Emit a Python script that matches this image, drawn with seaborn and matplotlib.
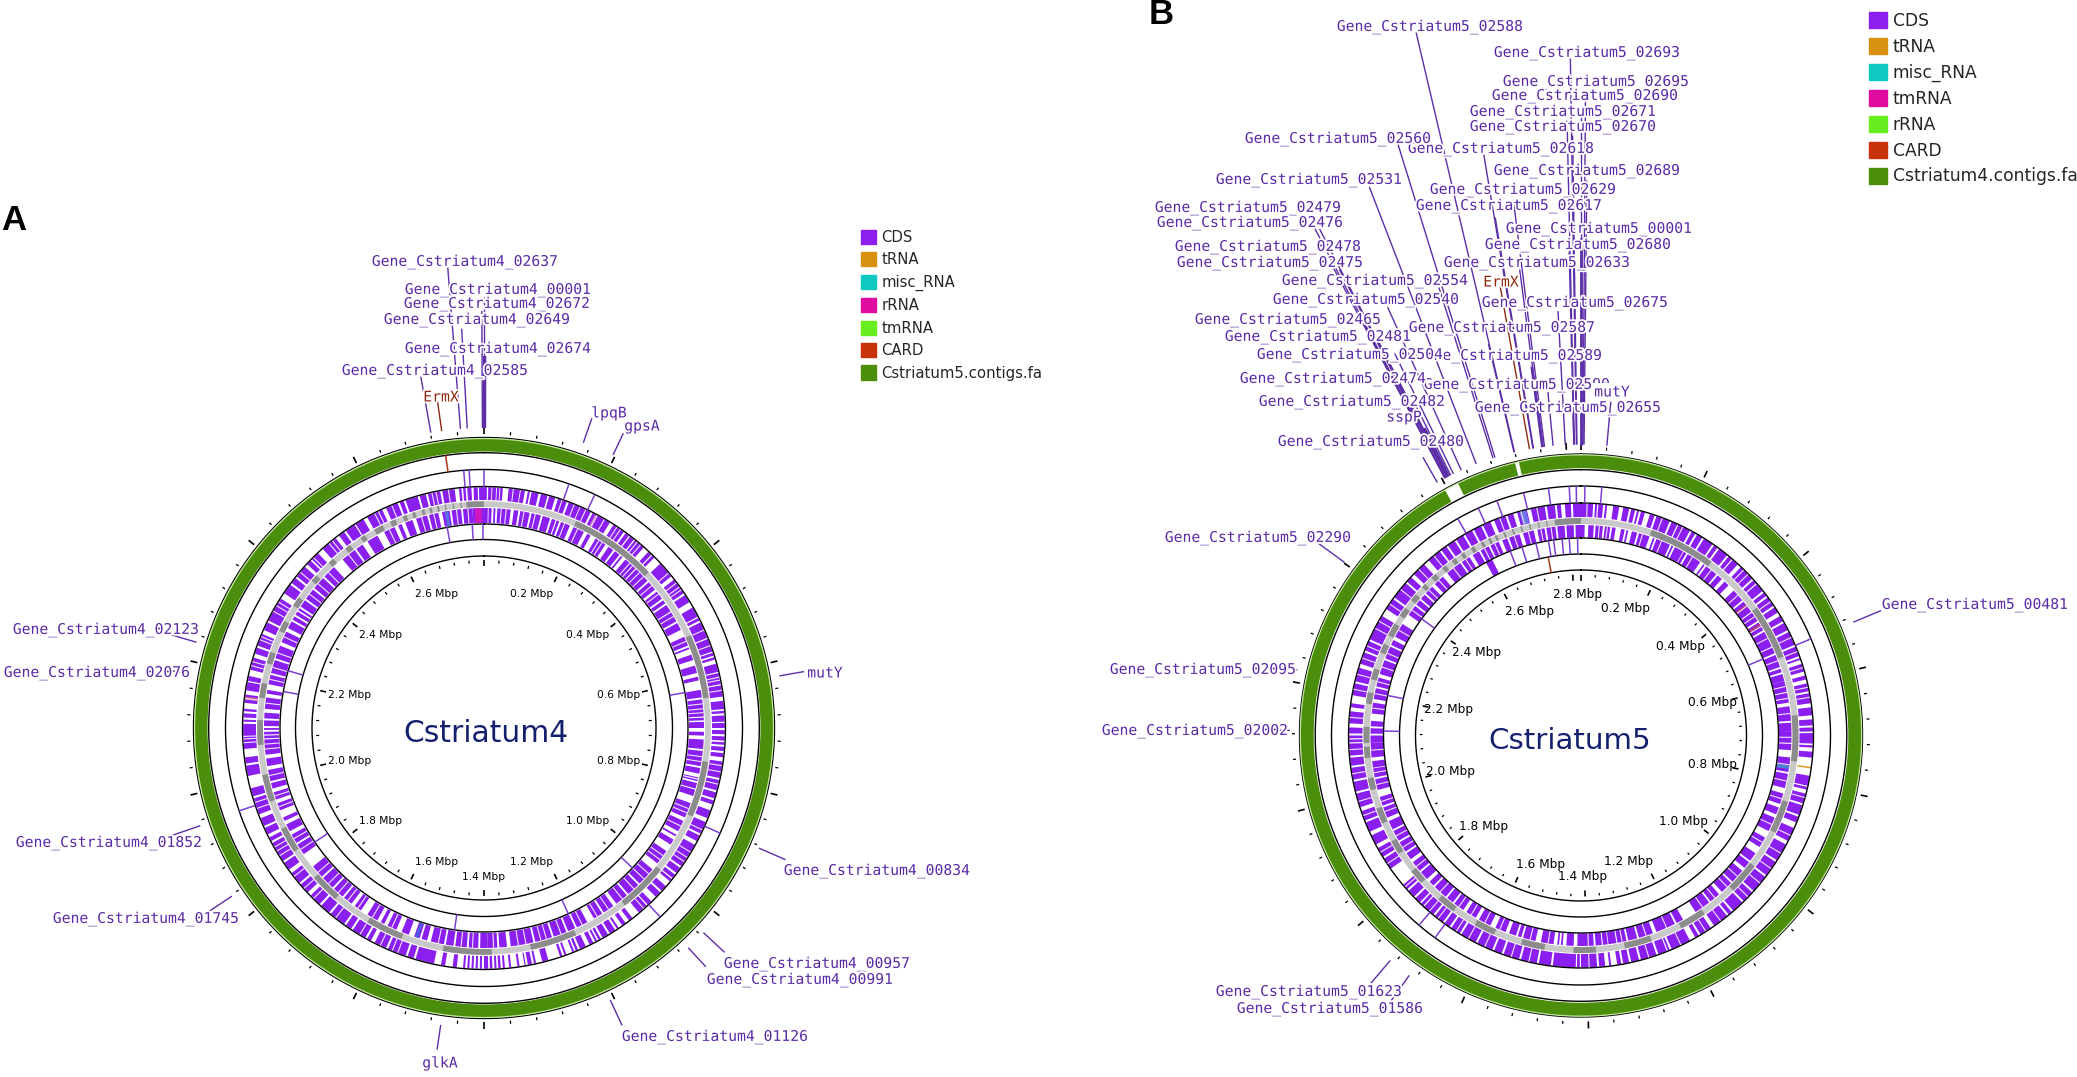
import numpy as np
import pandas as pd
import matplotlib
matplotlib.use("Agg")
import matplotlib.pyplot as plt
import matplotlib.patheffects as pe
from matplotlib.patches import Patch
import seaborn as sns

sns.set_theme(style="white")
W, H = 2077, 1077

# ---------- DATA (angles are degrees clockwise from the origin) ----------
palette_hex = ["#8a1ff0", "#d8900f", "#0fc8c0", "#e00ca0", "#66ee1e", "#c8320a", "#4a8e0c"]
len_a_mbp, len_b_mbp = 2.80, 2.823

a_outer = [0,.7,1,1.8,2,2.9,3.1,3.7,3.9,4.5,5.9,8.6,8.8,9.8,10.5,11,11.4,13.1,13.7,15.3,15.7,17.2,17.9,20.1,20.6,23.4,23.6,26.3,
 26.8,31.5,32.5,35.5,36,37,37.3,38.5,38.8,41.5,43,44,44.3,45,47,51,52,56,56.5,58.5,60,62.5,62.8,63.5,64,68,68.3,71.5,71.8,72.5,72.9,73.5,74.5,76.5,
 76.8,79.5,79.8,82.5,83.5,85.5,85.9,86.5,87,88.5,88.8,90,90.5,91.5,92,93,93.4,94,94.5,95.5,96,97,98,102,102.5,105,105.5,107,107.5,108.5,110,112,113,116,116.5,118,119,125,
 125.5,127,127.5,128.5,128.8,129.5,131,132.5,133,134.5,136,137.2,137.5,140,142,143,144,145,146,146.5,147,148.5,149,150.5,151,151.6,152,152.5,153,154,155,156.5,157,157.6,158,158.5,160,160.5,161,161.6,
 164.5,166,167.5,168,168.5,169.5,170,170.3,171.5,172,173.5,174,175,175.5,176,176.6,177,177.5,178,178.6,179,180,180.5,181,181.5,182,182.5,183,183.5,184,184.5,185,
 186.5,187.5,189.3,190.3,192,196.5,197,198.5,199,203.5,204,207,208,209,209.5,213,213.5,215,215.5,219.5,220,222.5,223,226,227,229.5,230,233,234,236,236.5,241.5,242,243,243.8,245.5,246,248,249,253,253.5,255.5,258.5,261,261.5,263,265,270,
 270,271,271.5,272,272.5,273.5,274,274.6,276,278,279,281,281.3,282.5,284,287,288,289.5,290,293,294,296,296.5,302.5,304,306.5,307,308.5,309,312,312.8,314,314.4,316.5,318,322,323,324.5,325,327.5,327.8,330,331,335,336,339,339.5,340.5,341,344,344.5,346,346.5,349.5,350,353,354,354.6,355,355.6,356,357,357.5,358.5,358.8,360]
a_inner = [0,1,1.2,2,2.5,3,3.5,7,7.8,9,9.5,12,12.5,15,15.5,17.5,18,19,19.3,20,20.5,23,24,27,28,29,30.5,33.5,34.5,36,36.5,38,38.5,39,40,43.5,43.8,48,48.5,51,51.7,54,54.5,55.5,56,58,58.3,61,61.5,63.5,65.5,68,68.5,69,70.5,72,73.5,75.5,76.5,77.5,80,82,82.5,87,87.3,88,88.4,90,
 91,92,93,95.5,96,100,100.5,102,103,103.3,103.6,104,104.5,106,106.3,108,110,114,115,118,119,119.5,120.5,122,124,128,130,135,135.5,139,139.5,143,144,147,147.5,150,152,155,155.5,157.5,158,161.5,162,166.5,167,173,174,176,176.5,179,179,181,
 181.5,184,184.5,187.5,188,190,190.5,194,195,196.5,197,198.5,200,202,203.5,206,207,208,209,212,214,216,217,219.5,220,223,223.5,227,227.5,231,235,238,238.5,241,242,244,245,246,248,250,251,253,254,255.5,256,259,260,262,263,267,
 267.3,268,268.3,269,269.5,270,270.5,272,272.5,274,275,278,279,280,281.5,284,284.5,288,288.5,292,293,296,297,299,299.5,300.5,301,302,302.4,303,303.5,305.5,306,309,309.5,313,313.5,317,320,324,324.5,326.5,328,331,333,336,337,338,339,341,342,345,345.5,348,349,351,351.5,354,354.5,357,357,360]
a_outer_cuts = [7,18.9,22,25,28,30,33.5,34.5,39.5,40.5,50,53,54.2,55,66,70,77.8,78.5,81,99,100.5,103.5,115,121,122.5,123.7,138.5,201,202.4,205.5,211,218,225,228.3,232,238,239.3,240.4,250.5,252,268,266.5,267.4,277,285,286,291.5,292.3,299,300.5,301.5,310.3,315,320,321,333,334,337.5,347.5,348.5,351.5]
a_inner_cuts = [4.5,5.8,10.5,13.5,21.5,25.2,31.5,32.5,41.5,42.5,45,46.5,49.7,52.5,59.5,66.8,83.7,85,86,97.5,98.8,111.5,112.7,116.5,125.5,126.8,131.5,133.3,137,141,145.5,149,153.5,159.5,163.5,165,169,171,177.5,183,186,192,204.8,210.5,215,218.3,221.5,225,229,236.5,239.8,249,252,257.5,264.5,265.8,276.5,282.8,286,290,294.5,307.5,311,315,322,334.5,343.5,346.8,352.8,355.8]
a_dark = [24,46.6,65.8,82.3,98.6,113,128.8,141.5,156,168,178,190.5,201.4,211,221,228.6,236.9,243.5,251,258,265.7,272,277.7,281.5,286.6,289.6,295.4,298.2,302.7,305.2,310.5,312.3,316.8,318.3,322.3,323.8,327,328.3,331,333.4,335.5,337,339,340,341.5,342.3,344,344.7,346,346.6,348,348.5,350,350.3,352,352.3,354,354.3,355.5,360]
a_hits_mid = [355.5,356.7,0,19.2,25.4,114,137,251.3]
a_hits_low = [80,133.3,155.6,188.3,236,280.3,286.3,349.6,356.7,359.7]
a_card_out = [352.0]
a_tint_outer = [(276.8,277.5,"#d06a90"),(27.5,28.2,"#c87ad0")]
a_tint_inner = [(197.4,198.2,"#4a60e0"),(349.7,350.6,"#5a70e8"),(357.6,359.4,"#d018c0")]

b_outer = [0,3,3.5,4,4.3,5.5,6,6.5,8,9.5,10.5,12,12.5,13.5,14,14.5,15,16,17.3,18.5,19,22.5,23,24.5,24.8,28,28.5,29.5,30,31.5,32,34.5,35,36,36.5,39,39.5,40.5,40.8,42.5,43.5,47.5,48,49,49.3,51.5,52,53,53.5,56,56.5,58,59,60.5,61,63,63.5,67,67.5,70,70.5,71,72,74,75,76,77,79,79.5,82,83,85,86,87.5,88,89,89.4,92,92.4,93,94,95.5,
 100,102.5,102.8,103.5,104.5,107,107.5,110,110.5,112,113.5,117,118,122.5,123,127,127.5,132,132.5,135.5,136,139,139.5,140.5,141,145,146,149,149.5,150.5,152,157,157.5,158,158.3,160.5,161,165,165.5,167.5,168,169.5,170,171,172.5,173,174,175.5,176,180,
 180.3,181,181.3,187,187.5,190.5,191,195,195.5,199.5,200,202,202.5,206.5,207,211,211.5,214,214.5,216,216.5,219,219.5,222.5,222.8,223.6,224,225.5,226,228,228.5,230,235,238,238.5,241,242,244.5,245.5,248,248.5,251,252,255.5,256,258.5,259,262,262.5,264.5,265,268,
 268.3,269,269.3,270,270.5,272,273,276,277,278,280,283,283.5,287,288,291,291.5,294,294.5,301,303,306,306.5,311,311.5,313,314,317.5,319,322.5,323,324.5,325,327,327.5,329.5,330,332,332.5,334.5,335,337,338,341,341.5,343,344,346.5,347.5,351,351.5,353.5,354,355,356,357.5,358,360]
b_inner = [0,1,2,3.5,4,6,6.5,8,8.5,9.5,11,12,12.5,13,14,15.5,16,19,20,20.5,21,25,25.5,26,26.5,29,29.2,30,30.5,34.5,35.5,36,36.5,40,40.5,42,43,44.5,46.5,50,50.5,54,54.3,57,57.5,60,60.5,65,65.3,67,67.5,71,71.5,72.5,73,75,75,78,78.3,81,82,86,86.5,89,89,92,
 92.3,94,96,100,100.5,104.5,106,109,110,112,113,117,119,122,124,126.5,127,129,130,134,134.5,138,139,142,142.5,147,151,153,153.5,159,160,164,164.5,167,167.5,170,170.3,172.5,172.7,174,174.3,176,176.5,180,
 180,181,182,184,185,185.5,186,186.5,187.5,191,192.5,196,196.5,197.5,198,200,201,204,205.5,209,210,213,214,217,217.5,219.5,220,224,224.5,226,227,229.5,230,233,234,236,236.5,239.5,240,243,243.5,246,247,250,250.5,253,255,258,258.5,261,261.2,263,264,268,
 268,270,270.5,272,272.5,274,276,279,280,283,283.5,286,287,291,291.5,295,295.5,297,298,302,305,308,308.5,310,310.5,312,312.5,315,316,319,320.5,325,325.5,328,329,331,331.5,334,334.5,337,338,339.5,340,343,344,347,348,350,350.5,353,353.5,355.5,356,358,358.5,360]
b_outer_cuts = [1.5,20.5,26,44.5,46,54.8,65,68.8,73,78,80.5,105.5,115.5,120.5,125,129.5,134,143,147.5,154.5,163,178,193,197.5,204.5,209,212.5,218,220.8,229.3,236.5,239.8,249.8,253.5,260.5,266.5,274.5,281.5,285.3,289.5,292.7,297.5,299.5,304.5,309,315.7,320.7,339.5,345,349]
b_inner_cuts = [5,7.2,17,22.5,32,38.2,48.2,52,55.6,58.8,62.5,69.2,76.5,79.8,84,90.5,98,102.5,107.5,115,120.5,132,136,140.5,144.7,156,162,168.7,178,189,194,202.7,207.2,211.5,215.5,222,231.5,237.9,241.5,248.8,251.7,256.5,259.8,266,277.5,281.5,284.8,289,293,300,306.6,313.7,317.5,322.7,326.8,332.7,335.8,341.5,345.5,349,351.8]
b_dark = [19,36.9,54,68.7,84.6,96.9,107.8,116.6,127,135.5,145.3,152.5,161,168.3,176,182,189.7,196,203.6,209.3,216,221,227.3,231.3,237,240.8,246.1,250.3,255.4,258.6,264,267,268,272.3,278.5,281.5,285,288,292.5,295,297.5,301,303.5,306,308.5,310.5,313,314.2,316.5,318,320.3,321.5,323.5,324.7,326.4,327.4,329.5,330.5,332.5,333.3,334.7,335.4,336.6,337.2,339,339.5,341.4,341.9,343.8,344.2,346.1,346.5,348.5,348.8,350.7,351,353,360]
b_hits_mid = [330.4,335.7,340.3,346.7,352.5,357.3,358.9,.9,4.8,67.2,215.8,220.5]
b_hits_low = [339,342.6,346.8,350.5,352,354.5,356.6,359,271.3,281.7,306.2,67.2]
b_card_in = [349.6]
b_block_low = [331.2,333.2]
b_green_gaps = [331,334,346.4,347.2]
b_tint_outer = [(97.8,98.15,"#d8900f"),(344.6,346.3,"#6a78e8")]
b_tint_inner = [(98.2,99.2,"#4a80d8"),(51.5,52.2,"#b83a70"),(58,58.6,"#b83a70")]

# name, colour key, label centre x, y in pixels, gene angle, line start r, line end r, line width
labels_a = [
 ("Gene_Cstriatum4_02637","g",465,262,355.5,300,462,1.0),
 ("Gene_Cstriatum4_00001","g",498,290,0.0,300,431,1.0),
 ("Gene_Cstriatum4_02672","g",497,304,359.7,300,417,1.0),
 ("Gene_Cstriatum4_02649","g",477,320,356.8,300,400,1.0),
 ("Gene_Cstriatum4_02674","g",498,349,0.1,300,372,2.4),
 ("Gene_Cstriatum4_02585","g",435,371,349.8,300,357,1.0),
 ("ErmX","r",441,397,351.9,300,330,1.0),
 ("lpqB","g",609,413,19.2,302,328,1.0),
 ("gpsA","g",642,426,25.3,302,326,1.0),
 ("mutY","g",825,673,80.0,300,325,1.0),
 ("Gene_Cstriatum4_00834","g",877,871,113.6,300,329,1.0),
 ("Gene_Cstriatum4_00957","g",817,964,133.0,300,329,1.0),
 ("Gene_Cstriatum4_00991","g",800,980,137.1,300,326,1.0),
 ("Gene_Cstriatum4_01126","g",715,1037,155.1,300,328,1.0),
 ("glkA","g",440,1063,188.3,300,325,1.0),
 ("Gene_Cstriatum4_01745","g",146,919,236.3,303,330,1.0),
 ("Gene_Cstriatum4_01852","g",109,843,251.0,300,332,1.0),
 ("Gene_Cstriatum4_02076","g",97,673,280.4,300,325,1.0),
 ("Gene_Cstriatum4_02123","g",106,630,286.6,300,332,1.0),
]
labels_b = [
 ("Gene_Cstriatum5_02588","g",1430,27,346.8,291,722,1.0),
 ("Gene_Cstriatum5_02693","g",1587,53,359.1,291,677,1.0),
 ("Gene_Cstriatum5_02695","g",1596,82,0.4,291,645,1.0),
 ("Gene_Cstriatum5_02690","g",1585,96,0.0,291,630,1.0),
 ("Gene_Cstriatum5_02671","g",1563,112,358.7,291,615,1.0),
 ("Gene_Cstriatum5_02670","g",1563,127,359.2,291,600,1.0),
 ("Gene_Cstriatum5_02618","g",1501,149,350.5,291,589,1.0),
 ("Gene_Cstriatum5_02689","g",1587,171,0.6,291,555,1.0),
 ("Gene_Cstriatum5_02629","g",1523,190,352.8,291,539,1.0),
 ("Gene_Cstriatum5_02617","g",1509,206,350.6,291,525,1.0),
 ("Gene_Cstriatum5_00001","g",1599,229,0.0,291,498,2.0),
 ("Gene_Cstriatum5_02680","g",1578,245,358.6,291,484,1.0),
 ("Gene_Cstriatum5_02633","g",1537,263,352.5,291,470,1.0),
 ("Gene_Cstriatum5_02675","g",1575,303,356.9,291,425,1.0),
 ("Gene_Cstriatum5_02587","g",1502,328,346.7,291,402,1.0),
 ("Gene_Cstriatum5_02589","g",1509,356,352.4,291,372,2.0),
 ("Gene_Cstriatum5_02590","g",1517,385,354.5,291,345,1.0),
 ("Gene_Cstriatum5_02655","g",1568,408,358.6,291,320,1.0),
 ("ErmX","r",1501,282,349.8,291,456,1.0),
 ("mutY","g",1612,392,5.1,291,335,1.0),
 ("Gene_Cstriatum5_02560","g",1338,139,342.8,291,620,1.0),
 ("Gene_Cstriatum5_02531","g",1309,180,338.9,291,588,1.0),
 ("Gene_Cstriatum5_02479","g",1248,208,332.3,291,575,1.0),
 ("Gene_Cstriatum5_02476","g",1250,223,332.7,291,570,1.0),
 ("Gene_Cstriatum5_02478","g",1268,247,332.1,291,532,1.0),
 ("Gene_Cstriatum5_02475","g",1270,263,332.6,291,525,1.0),
 ("Gene_Cstriatum5_02554","g",1375,281,342.4,291,470,1.0),
 ("Gene_Cstriatum5_02540","g",1366,300,335.7,291,470,1.0),
 ("Gene_Cstriatum5_02465","g",1288,320,332.2,291,472,1.0),
 ("Gene_Cstriatum5_02481","g",1318,337,332.8,291,442,1.0),
 ("Gene_Cstriatum5_02504","g",1350,355,334.0,291,425,1.0),
 ("Gene_Cstriatum5_02474","g",1333,379,332.5,291,397,1.0),
 ("Gene_Cstriatum5_02482","g",1352,402,333.4,291,370,1.0),
 ("sspP","g",1404,417,333.0,291,345,2.0),
 ("Gene_Cstriatum5_02480","g",1371,442,330.4,291,320,1.0),
 ("Gene_Cstriatum5_02290","g",1258,538,306.2,293,325,1.0),
 ("Gene_Cstriatum5_02095","g",1203,670,283.0,291,312,1.0),
 ("Gene_Cstriatum5_02002","g",1195,731,271.0,291,308,1.0),
 ("Gene_Cstriatum5_00481","g",1975,605,67.4,295,325,1.0),
 ("Gene_Cstriatum5_01623","g",1309,992,220.3,295,325,1.0),
 ("Gene_Cstriatum5_01586","g",1330,1009,215.6,295,326,1.0),
]

# ---------- STYLE / LAYOUT ----------
PURPLE = palette_hex[0]
LEADER = "#5c2ea8"
LABEL = "#5a2aa6"
RED = "#8e2a10"
R_AX = 780
geom_a = dict(c=(484, 728), gr=(276.5, 289.8), rings=(290.5, 275.3, 258.5, 241.5, 204.0, 188.5, 172.0),
              co=(228, 240.8), ga=(221, 226.8), ci=(205, 220), otick=(294, 297, 301), itick=(165, 168, 162),
              fs=7.7, rl=160, ry=149, length=len_a_mbp, mbp=[round(.2*i, 1) for i in range(1, 14)], hit_mid=(241.5, 258.5), hit_low=(188.5, 204))
geom_b = dict(c=(1581, 735.5), gr=(267.3, 281), rings=(281.5, 265.8, 249.5, 232.5, 197.5, 181.5, 165.5),
              co=(218.5, 232), ga=(211.5, 217.5), ci=(198, 210.5), otick=(286, 289, 293), itick=(158.5, 161, 155),
              fs=8.7, rl=160, ry=141, length=len_b_mbp, mbp=[round(.2*i, 1) for i in range(1, 15)], hit_mid=(232.5, 249.5), hit_low=(181.5, 197.5))


def ftext(x, y, s, **kw):
    return fig.text(x / W, 1 - y / H, s, ha=kw.pop("ha", "center"), va=kw.pop("va", "center"), **kw)


def spans(ax, flat, r0, r1, color):
    a = np.asarray(flat, float).reshape(-1, 2)
    ax.bar(np.radians(a.mean(axis=1)), r1 - r0, width=np.radians(a[:, 1] - a[:, 0]), bottom=r0,
           color=color, linewidth=0, align="center")


def genome(g, outer, inner, cuts_o, cuts_i, tint_o, tint_i, dark, hits_mid, hits_low, labels, gaps=None, card=None, block=None):
    cx, cy = g["c"]
    ax = fig.add_axes([(cx - R_AX) / W, 1 - (cy + R_AX) / H, 2 * R_AX / W, 2 * R_AX / H], polar=True)
    ax.set_theta_zero_location("N")
    ax.set_theta_direction(-1)
    ax.patch.set_alpha(0)
    spans(ax, [0, 360] if gaps is None else [0, gaps[0], gaps[1], gaps[2], gaps[3], 360], *g["gr"], palette_hex[6])
    th = np.radians(np.linspace(0, 360, 721))
    for r in g["rings"]:
        sns.lineplot(data=pd.DataFrame({"t": th, "r": np.full(th.size, r)}), x="t", y="r", ax=ax, color="black",
                     lw=1.0, estimator=None, sort=False, legend=False)
    sns.lineplot(data=pd.DataFrame({"t": th, "r": np.full(th.size, g["gr"][1] - .3)}), x="t", y="r", ax=ax,
                 color="#c4e8a0", lw=.9, estimator=None, sort=False, legend=False)
    # CDS tracks with thin pale separators and a few other feature colours
    spans(ax, outer, *g["co"], PURPLE)
    spans(ax, inner, *g["ci"], PURPLE)
    ax.vlines(np.radians(cuts_o), *g["co"], color="#efe4fc", lw=.8)
    ax.vlines(np.radians(cuts_i), *g["ci"], color="#efe4fc", lw=.8)
    for s, e, col in tint_o:
        spans(ax, [s, e], *g["co"], col)
    for s, e, col in tint_i:
        spans(ax, [s, e], *g["ci"], col)
    spans(ax, [0, 360], *g["ga"], "#c9c9c9")
    spans(ax, dark, *g["ga"], "#8c8c8c")
    ax.vlines(np.radians(hits_mid), *g["hit_mid"], color="#7a3fd0", lw=1.1)
    ax.vlines(np.radians(hits_low), *g["hit_low"], color="#7a3fd0", lw=1.1)
    if card:
        ax.vlines(np.radians(card[1]), *card[0], color="#a83a18", lw=1.1)
    if block:
        spans(ax, block, *g["hit_low"], PURPLE)
    n = int(round(g["length"] / 0.04))
    steps = np.arange(0, n + 1) * 0.04
    steps = steps[steps < g["length"] - .005]
    major = np.isclose((steps / 0.2) % 1, 0, atol=1e-6) | np.isclose((steps / 0.2) % 1, 1, atol=1e-6)
    ang = np.radians(steps / g["length"] * 360)
    ax.vlines(ang[~major], g["otick"][0], g["otick"][1], color="black", lw=.9)
    ax.vlines(ang[major], g["otick"][0], g["otick"][2], color="black", lw=1.2)
    ax.vlines(ang[~major], g["itick"][0], g["itick"][1], color="black", lw=.9)
    ax.vlines(ang[major], g["itick"][2], g["itick"][1], color="black", lw=1.2)
    for m in g["mbp"]:
        t = m / g["length"] * 2 * np.pi
        s, c = np.sin(t), np.cos(t)
        ha = "center" if abs(s) < .12 else ("right" if s > 0 else "left")
        x = cx + s * g["rl"] if ha != "center" else cx + s * 60
        ftext(x, cy - c * g["ry"], f"{m:.1f} Mbp", ha=ha, fontsize=g["fs"], color="black", family="DejaVu Sans")
    for name, col, lx, ly, deg, r0, r1, lw in labels:
        ax.vlines(np.radians(deg), r0, r1, color=RED if col == "r" else LEADER, lw=lw)
    halo = [pe.withStroke(linewidth=2.6, foreground="white")]
    for name, col, lx, ly, deg, r0, r1, lw in labels:
        bb = dict(fc="white", ec="none", pad=1) if name == "mutY" and lx > 1000 else None
        ftext(lx, ly, name, fontsize=10.6, family="DejaVu Sans Mono", color=RED if col == "r" else LABEL,
              bbox=bb, path_effects=halo)
    ax.set_ylim(0, R_AX)
    ax.set_axis_off()


fig = plt.figure(figsize=(W / 100, H / 100), dpi=100, facecolor="white")

genome(geom_a, a_outer, a_inner, a_outer_cuts, a_inner_cuts, a_tint_outer, a_tint_inner, a_dark, a_hits_mid, a_hits_low,
       labels_a, card=((258.5, 275.3), a_card_out))
genome(geom_b, b_outer, b_inner, b_outer_cuts, b_inner_cuts, b_tint_outer, b_tint_inner, b_dark, b_hits_mid, b_hits_low,
       labels_b, gaps=b_green_gaps, card=((165.5, 181.5), b_card_in), block=b_block_low)

ftext(486, 733, "Cstriatum4", fontsize=21.4, color="#14206e", family="DejaVu Sans")
ftext(1570, 741, "Cstriatum5", fontsize=21.2, color="#14206e", family="DejaVu Sans")
ftext(14, 220, "A", fontsize=25, fontweight="bold", color="black", family="Liberation Sans")
ftext(1161, 15, "B", fontsize=25, fontweight="bold", color="black", family="Liberation Sans")


def legend(x, y, names, fs, sp):
    handles = [Patch(color=c, label=n) for c, n in zip(sns.color_palette(palette_hex), names)]
    fig.legend(handles=handles, loc="upper left", bbox_to_anchor=(x / W, 1 - y / H), frameon=False,
               handlelength=1.03, handleheight=1.08, handletextpad=.35, labelspacing=sp, borderpad=0, borderaxespad=0,
               prop=dict(family="DejaVu Sans", size=fs))


legend(861, 230, ["CDS", "tRNA", "misc_RNA", "rRNA", "tmRNA", "CARD", "Cstriatum5.contigs.fa"], 10.7, .49)
legend(1869, 12, ["CDS", "tRNA", "misc_RNA", "tmRNA", "rRNA", "CARD", "Cstriatum4.contigs.fa"], 12.3, .46)

fig.savefig("out.png", dpi=100)
